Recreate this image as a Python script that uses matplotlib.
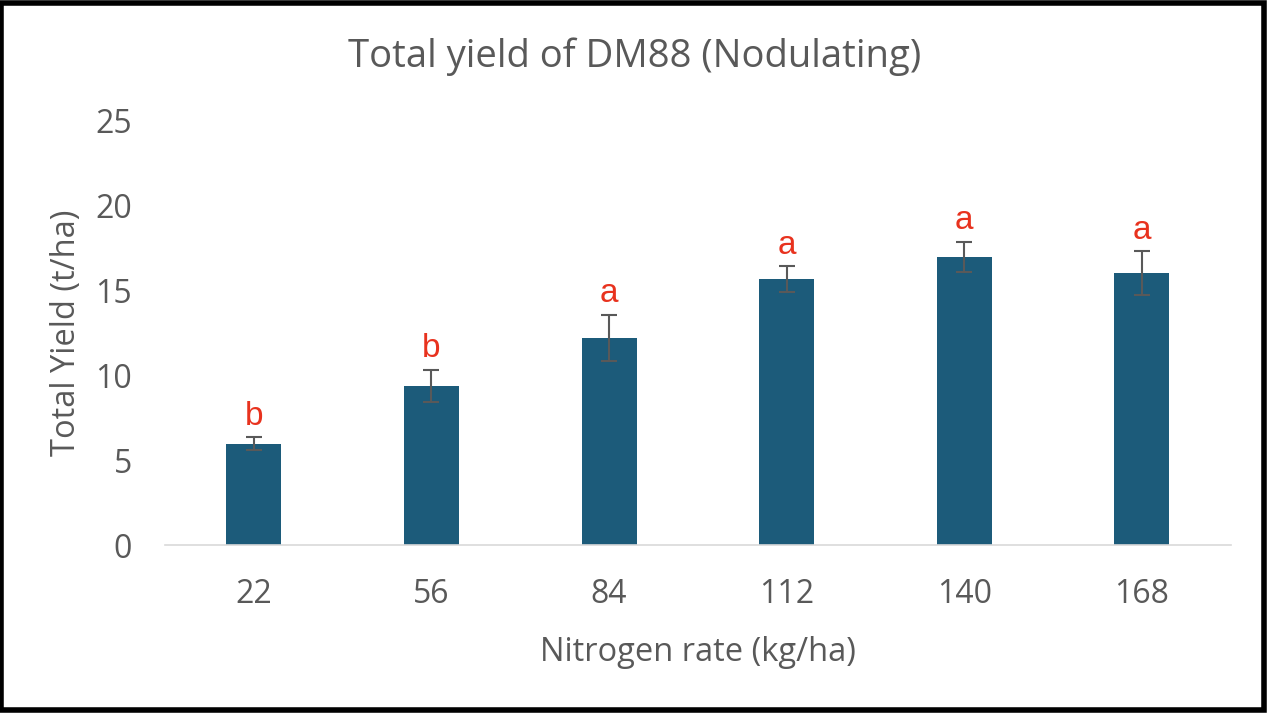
import matplotlib
matplotlib.use("Agg")
import matplotlib.pyplot as plt
from matplotlib.patches import Rectangle

rates = ["22", "56", "84", "112", "140", "168"]
yield_mean = [5.95, 9.35, 12.2, 15.65, 16.95, 16.0]
yield_err = [0.38, 0.95, 1.35, 0.75, 0.88, 1.28]
letters = ["b", "b", "a", "a", "a", "a"]

plt.rcParams["font.family"] = ["Open Sans", "DejaVu Sans"]
grey = "#595959"

fig = plt.figure(figsize=(12.7, 7.13), dpi=100)
ax = fig.add_axes([0.130, 0.2356, 0.839, 0.596])

x = list(range(len(rates)))
ax.bar(x, yield_mean, width=0.31, color="#1c5b7a", zorder=2)
ax.errorbar(x, yield_mean, yerr=yield_err, fmt="none", ecolor=grey,
            elinewidth=1.5, capsize=6, capthick=1.5, zorder=3)
for i in x:
    ax.annotate(letters[i], (i, yield_mean[i] + yield_err[i]), xytext=(0, 4),
                textcoords="offset points", ha="center", va="bottom",
                color="#e8321e", fontsize=24, family="Liberation Sans")

ax.set_xlim(-0.5, 5.5)
ax.set_ylim(0, 25)
ax.set_yticks(range(0, 26, 5))
ax.set_xticks(x)
ax.set_xticklabels(rates)
ax.tick_params(length=0, labelsize=23, colors=grey)
ax.tick_params(axis="x", pad=24)
ax.tick_params(axis="y", pad=24)
for s in ["top", "right", "left"]:
    ax.spines[s].set_visible(False)
ax.spines["bottom"].set_color("#d9d9d9")
ax.spines["bottom"].set_linewidth(1.2)

ax.set_xlabel("Nitrogen rate (kg/ha)", fontsize=23.5, color=grey, labelpad=18)
ax.set_ylabel("Total Yield (t/ha)", fontsize=23.5, color=grey, labelpad=9)
fig.text(0.5, 0.92, "Total yield of DM88 (Nodulating)", ha="center",
         va="center", fontsize=27.5, color=grey)

fig.patches.append(Rectangle((0.001, 0.004), 0.994, 0.992, transform=fig.transFigure,
                             fill=False, edgecolor="black", linewidth=4))

fig.savefig("out.png", dpi=100)
